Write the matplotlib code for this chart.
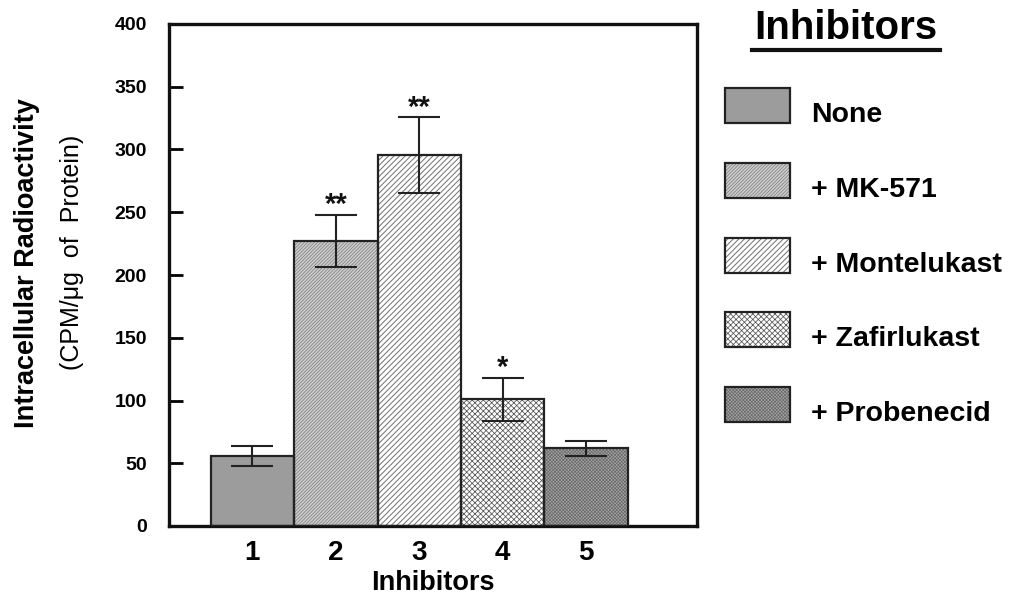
import matplotlib
matplotlib.use("Agg")
import matplotlib.pyplot as plt
from matplotlib.patches import Rectangle
from matplotlib.lines import Line2D

plt.rcParams['font.family'] = ['Liberation Sans', 'DejaVu Sans']

# ---- data ----
positions = [1, 2, 3, 4, 5]
values = [56, 227, 295.5, 101, 62]
errors = [8, 21, 30, 17, 6]
stars = ['', '**', '**', '*', '']
legend_labels = ['None', '+ MK-571', '+ Montelukast', '+ Zafirlukast', '+ Probenecid']
tick_labels = ['1', '2', '3', '4', '5']
yticks = [0, 50, 100, 150, 200, 250, 300, 350, 400]

# ---- styles ----
fills = ['#9c9c9c', '#cdcdcd', '#ffffff', '#ffffff', '#a4a4a4']
hatches = [None, '//////////', '//////', 'xxxxxx', 'xxxxxxxxxx']
hatch_cols = ['#9c9c9c', '#7a7a7a', '#707070', '#555555', '#6a6a6a']
hatch_lws = [0.5, 0.5, 0.7, 0.55, 0.5]
edge = '#222222'

W, H = 1013, 596
fig = plt.figure(figsize=(W / 100, H / 100), dpi=100)
ax = fig.add_axes([169 / W, 1 - 526 / H, (697 - 169) / W, (526 - 24) / H])

for i in range(len(values)):
    plt.rcParams['hatch.linewidth'] = hatch_lws[i]
    ax.bar(positions[i], values[i], width=1.0, color=fills[i],
           hatch=hatches[i], edgecolor=hatch_cols[i], linewidth=0, zorder=2)
    ax.bar(positions[i], values[i], width=1.0, fill=False,
           edgecolor=edge, linewidth=1.6, zorder=3)

ax.errorbar(positions, values, yerr=errors, fmt='none', ecolor='#222222',
            elinewidth=1.5, capsize=15, capthick=1.5, zorder=4)

for x, v, e, s in zip(positions, values, errors, stars):
    if s:
        ax.text(x, v + e + 1.5, s, ha='center', va='baseline',
                fontsize=21, fontweight='bold', color='#111111', zorder=5)

ax.set_xlim(0, 6.33)
ax.set_ylim(0, 400)
ax.set_yticks(yticks)
ax.set_yticklabels([str(t) for t in yticks])
ax.set_xticks(positions)
ax.set_xticklabels(tick_labels)

for sp in ax.spines.values():
    sp.set_linewidth(2.4)
    sp.set_color('#111111')

ax.tick_params(axis='y', direction='in', length=10, width=2, pad=16,
               labelsize=14)
ax.tick_params(axis='x', length=0, pad=10, labelsize=20)
for lab in ax.get_yticklabels() + ax.get_xticklabels():
    lab.set_fontweight('bold')

ax.set_xlabel('Inhibitors', fontsize=19.5, fontweight='bold', labelpad=3)

# y-axis label: two lines with different weights
fig.text(27 / W, 1 - 263 / H, 'Intracellular Radioactivity', rotation=90,
         ha='center', va='center', fontsize=19.5, fontweight='bold')
fig.text(72 / W, 1 - 252 / H, '(CPM/\u03bcg  of  Protein)', rotation=90,
         ha='center', va='center', fontsize=18)

# ---- legend (drawn manually) ----
fig.text(846 / W, 1 - 28 / H, 'Inhibitors', ha='center', va='center',
         fontsize=29, fontweight='bold')
fig.add_artist(Line2D([752 / W, 940 / W], [1 - 50 / H, 1 - 50 / H],
                      transform=fig.transFigure, color='#111111', linewidth=3))

patch_tops = [88, 163, 238, 312, 387]
for i, lab in enumerate(legend_labels):
    top = patch_tops[i]
    x0, y0 = 725 / W, 1 - (top + 35) / H
    w, h = 65 / W, 35 / H
    plt.rcParams['hatch.linewidth'] = hatch_lws[i]
    fig.add_artist(Rectangle((x0, y0), w, h, transform=fig.transFigure,
                             facecolor=fills[i], hatch=hatches[i],
                             edgecolor=hatch_cols[i], linewidth=0))
    fig.add_artist(Rectangle((x0, y0), w, h, transform=fig.transFigure,
                             fill=False, edgecolor=edge, linewidth=1.6))
    fig.text(811 / W, 1 - (top + 34) / H, lab, ha='left', va='baseline',
             fontsize=20.5, fontweight='bold')

fig.savefig('out.png', dpi=100)
